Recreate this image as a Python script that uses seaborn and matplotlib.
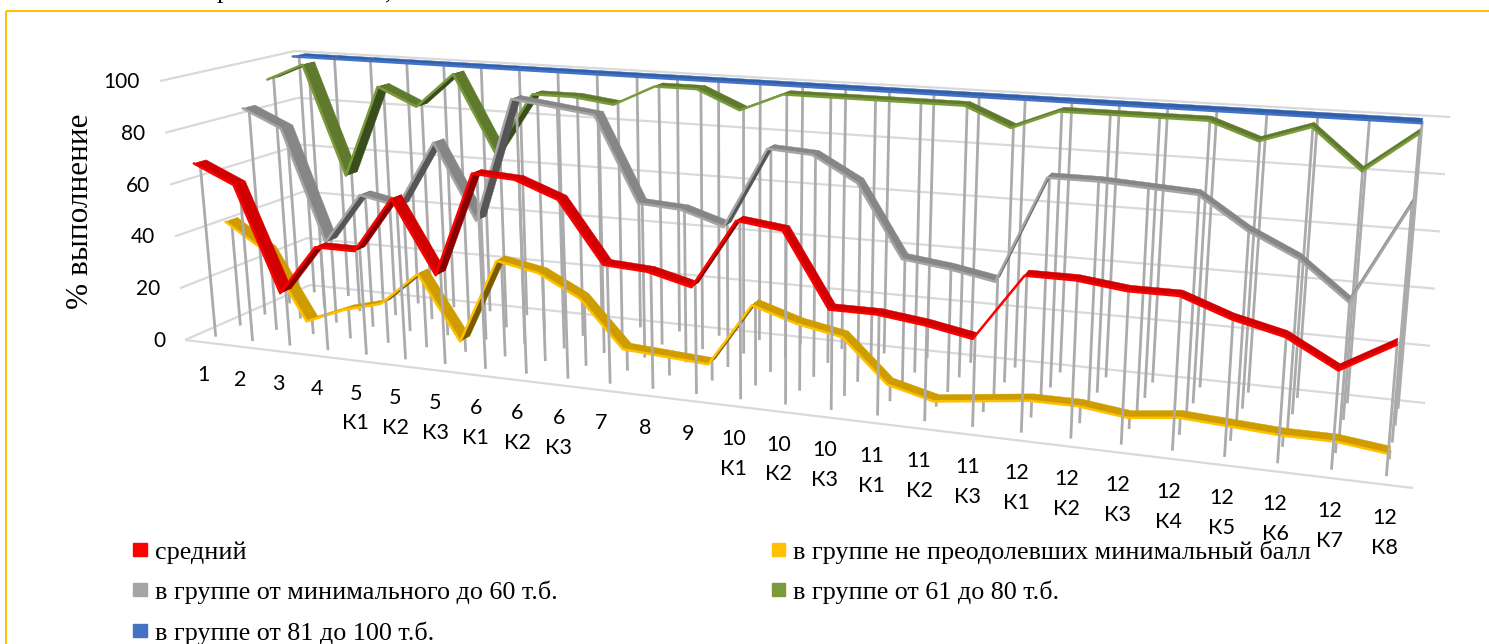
import numpy as np
import pandas as pd
import matplotlib
matplotlib.use('Agg')
import matplotlib.pyplot as plt
import seaborn as sns
from matplotlib.patches import Patch, Rectangle
from matplotlib.transforms import Transform

categories = ['1', '2', '3', '4', '5\nК1', '5\nК2', '5\nК3', '6\nК1', '6\nК2', '6\nК3', '7', '8', '9',
              '10\nК1', '10\nК2', '10\nК3', '11\nК1', '11\nК2', '11\nК3',
              '12\nК1', '12\nК2', '12\nК3', '12\nК4', '12\nК5', '12\nК6', '12\nК7', '12\nК8']
red = [68, 61, 21, 40, 40, 61, 34, 73, 72, 66, 44, 43, 39, 64, 62, 36, 36, 34, 31, 54, 54, 52, 52, 46, 42, 33, 43]
yellow = [42, 32, 6, 12, 16, 29, 5, 37, 34, 26, 9, 8, 7, 30, 25, 22, 7, 3, 5, 7, 7, 5, 7, 6, 5, 5, 3]
gray = [84, 77, 33, 53, 50, 76, 47, 95, 93, 91, 59, 58, 53, 83, 82, 73, 47, 45, 42, 80, 80, 79, 78, 67, 59, 46, 80]
green = [93, 100, 56, 93, 86, 100, 70, 94, 94, 92, 100, 100, 93, 100, 100, 100, 100, 100, 93, 100, 100, 100, 100, 94, 100, 86, 100]
blue = [100] * 27
y_ticks = [0, 20, 40, 60, 80, 100]

names = ['средний', 'в группе не преодолевших минимальный балл', 'в группе от минимального до 60 т.б.',
         'в группе от 61 до 80 т.б.', 'в группе от 81 до 100 т.б.']
# edge colour, top of the ribbon, underside of the ribbon
colors = [('#ff0000', '#d20000', '#8a0000'),
          ('#ffc000', '#cf9c00', '#7a5c00'),
          ('#a5a5a5', '#868686', '#565656'),
          ('#7b9a3c', '#5f7a2c', '#3a4d1c'),
          ('#4472c4', '#3060ab', '#3060ab')]
serif = 'Liberation Serif'

# corners of the drawn box in pixels: front left, front right, back right, back left
floor_box = np.array([(185, 340), (1413, 488), (1425, 403), (310, 285)], float)
top_box = np.array([(160, 81), (1440, 170), (1450, 117), (295, 51)], float)
persp = 1.24


class Box(Transform):
    # category number and percent -> pixel, on a slice of the box at depth w
    input_dims = 2
    output_dims = 2

    def __init__(self, w):
        super().__init__()
        self.w = w

    def transform_non_affine(self, values):
        values = np.asarray(values, float)
        u = (values[:, 0] + 0.5) / len(categories)
        t = (u / (u + (1 - u) * persp))[:, None]
        v = values[:, 1:2] / 100
        out = []
        for c in (floor_box, top_box):
            out.append((c[0] + (c[1] - c[0]) * t) * (1 - self.w) + (c[3] + (c[2] - c[3]) * t) * self.w)
        return out[0] * (1 - v) + out[1] * v


sns.set_theme(style='white')
fig = plt.figure(figsize=(14.89, 6.44), dpi=100)
ax = fig.add_axes([0, 0, 1, 1])
ax.set_xlim(0, 1489)
ax.set_ylim(644, 0)
ax.axis('off')

ax.add_patch(Rectangle((6, 11), 1490, 640, fill=False, ec='#ffc000', lw=1.4))
# line of body text above the frame, only its lowest strokes show in the crop
ax.text(223, -2, 'р', family=serif, fontsize=19, ha='center', va='baseline', color='black')
ax.text(388, -2, ',', family=serif, fontsize=19, ha='center', va='baseline', color='black')

grid = dict(color='#d9d9d9', lw=1.6, zorder=1, solid_capstyle='butt')
for val in y_ticks:
    p0 = Box(0).transform(np.array([[-0.5, val]]))[0]
    p1 = Box(1).transform(np.array([[-0.5, val]]))[0]
    p2 = Box(1).transform(np.array([[len(categories) - 0.5, val]]))[0]
    ax.plot([p0[0], p1[0], p2[0]], [p0[1], p1[1], p2[1]], **grid)
    ax.text(p0[0] - 20, p0[1] + 1, str(val), family='Lato', fontsize=15, ha='right', va='center', color='black')
ends = Box(0).transform(np.array([[-0.5, 0], [len(categories) - 0.5, 0]]))
ax.plot(ends[:, 0], ends[:, 1], **grid)

ax.text(80, 211, '% выполнение', family=serif, fontsize=22.5, rotation=90, ha='center', va='center', color='black')

idx = np.arange(len(categories))
series = [red, yellow, gray, green, blue]
half = 0.047
z = 2
for d in range(4, -1, -1):
    vals = series[d]
    w = (d + 0.5) / 5
    edge, face, under = colors[d]
    for i in idx:
        ax.plot([i, i], [0, vals[i]], color='#ababab', lw=2.0, transform=Box(w) + ax.transData, zorder=z,
                solid_capstyle='butt')
    z += 1
    pts = np.column_stack([idx, vals])
    front = Box(w - half).transform(pts)
    back = Box(w + half).transform(pts)
    for i in idx[:-1]:
        poly = np.array([front[i], front[i + 1], back[i + 1], back[i]])
        px, py = poly[:, 0], poly[:, 1]
        area = np.sum(px * np.roll(py, -1) - np.roll(px, -1) * py)
        # which side of the ribbon faces the viewer
        ax.fill(px, py, color=face if area < 0 else under, lw=0.3, zorder=z)
    z += 1
    df = pd.DataFrame({'category': idx, 'value': vals})
    sns.lineplot(data=df, x='category', y='value', color=edge, lw=1.8, estimator=None, sort=False, ax=ax,
                 transform=Box(w - half) + ax.transData, zorder=z)
    z += 1

for i, label in enumerate(categories):
    p = Box(0).transform(np.array([[i, 0]]))[0]
    ax.text(p[0], p[1] + 23, label, family='Lato', fontsize=15.5, ha='center', va='top', color='black',
            linespacing=1.62, zorder=z)

order = [0, 2, 4, 1, 3]
handles = [Patch(color=colors[k][0], label=names[k]) for k in order]
ax.legend(handles=handles, loc='upper left', bbox_to_anchor=(120, 527), bbox_transform=ax.transData, ncol=2,
          frameon=False, prop={'family': serif, 'size': 18.8}, handlelength=0.53, handleheight=0.39, handletextpad=0.3,
          labelspacing=0.66, columnspacing=8.2, borderpad=0, labelcolor='black')
ax.set_xlim(0, 1489)
ax.set_ylim(644, 0)
ax.axis('off')
fig.savefig('out.png', dpi=100)
